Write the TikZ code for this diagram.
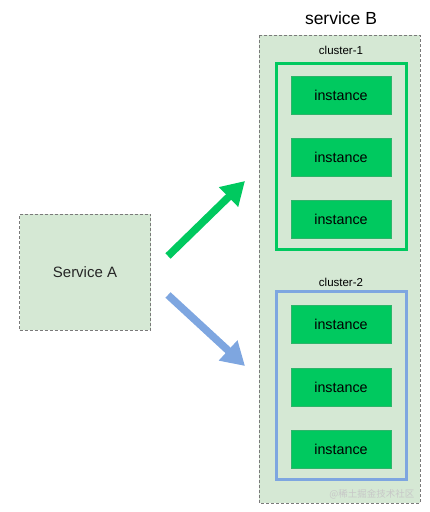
\documentclass[tikz,border=0pt]{standalone}
\usepackage{fontspec}
\setmainfont{Liberation Sans}
\newfontfamily\cjk{Noto Sans CJK SC}
\usetikzlibrary{arrows.meta}
\definecolor{lightg}{HTML}{D5E8D4}
\definecolor{instg}{HTML}{00C95F}
\definecolor{instb}{HTML}{2DB56A}
\definecolor{clblue}{HTML}{7EA6E0}
\definecolor{dashg}{HTML}{7A7A7A}
\tikzset{
  x=1pt, y=-1pt,
  svcbox/.style={draw=dashg, fill=lightg, line width=1pt, dash pattern=on 3pt off 2pt},
  clbox/.style={fill=lightg, line width=3pt},
  inst/.style={draw=instb, fill=instg, line width=0.6pt, minimum width=100pt, minimum height=38pt, font=\fontsize{14.3}{16}\selectfont, inner sep=0pt},
  bigarrow/.style={line width=7.5pt, -{Triangle[length=23pt, width=26pt]}},
}
\begin{document}
\begin{tikzpicture}
\useasboundingbox (0,0) rectangle (429,512);
% service B
\node[font=\fontsize{17.5}{20}\selectfont] (titleB) at (341,18) {service B};
\draw[svcbox] (259,35) rectangle (420,503);
% cluster-1
\node[font=\fontsize{11.5}{13}\selectfont] (c1lab) at (341,50) {cluster-1};
\draw[clbox, draw=instg] (276,63) rectangle (406,249);
\node[inst] (i1) at (341,95) {instance};
\node[inst] (i2) at (341,157) {instance};
\node[inst] (i3) at (341,219) {instance};
% cluster-2
\node[font=\fontsize{11.5}{13}\selectfont] (c2lab) at (341,282) {cluster-2};
\draw[clbox, draw=clblue] (276,291) rectangle (406,479);
\node[inst] (j1) at (341,324) {instance};
\node[inst] (j2) at (341,387) {instance};
\node[inst] (j3) at (341,449) {instance};
% service A
\node[svcbox, minimum width=131pt, minimum height=116pt, font=\fontsize{15}{17}\selectfont, text=black!85] (A) at (85,272) {Service A};
% arrows
\coordinate (g0) at (168,256);
\coordinate (g1) at (245,181);
\coordinate (b0) at (168,295);
\coordinate (b1) at (245,366);
\draw[bigarrow, instg] (g0) -- (g1);
\draw[bigarrow, clblue] (b0) -- (b1);
% watermark
\node[font=\cjk\fontsize{9.5}{10}\selectfont, text=black!22, anchor=east] (wm) at (418,494) {@稀土掘金技术社区};
\end{tikzpicture}
\end{document}
